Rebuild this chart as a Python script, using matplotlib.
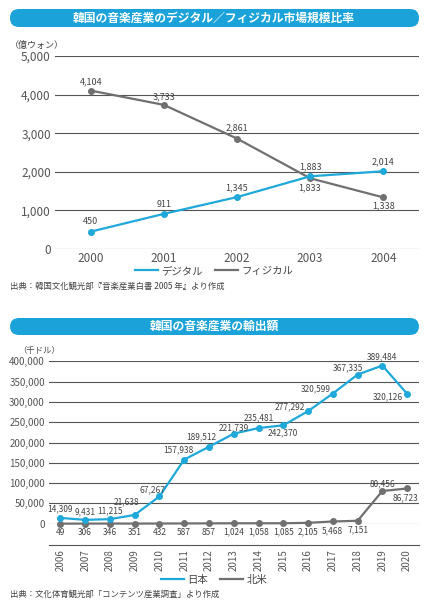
import matplotlib
matplotlib.use('Agg')
from matplotlib import pyplot as plt
from matplotlib.patches import FancyBboxPatch
from matplotlib.transforms import IdentityTransform
from matplotlib.ticker import FuncFormatter

plt.rcParams['font.family'] = ['Noto Sans CJK JP', 'DejaVu Sans']

# データ：デジタル／フィジカル市場規模
years1 = ['2000', '2001', '2002', '2003', '2004']
digital = [450, 911, 1345, 1883, 2014]
physical = [4104, 3733, 2861, 1833, 1338]

# データ：輸出額
years2 = [str(y) for y in range(2006, 2021)]
japan = [14309, 9431, 11215, 21638, 67267, 157938, 189512, 221739,
         235481, 242370, 277292, 320599, 367335, 389484, 320126]
na = [49, 306, 346, 351, 432, 587, 857, 1024, 1058, 1085, 2105,
      5468, 7151, 80456, 86723]

# ラベル位置（ピクセルオフセット）
off_digital = [(0, 10), (0, 9), (0, 9), (0, 10), (0, 9)]
off_physical = [(0, 9), (0, 8), (0, 11), (0, -10), (0, -8)]
off_japan = [(0, 9), (0, 8), (0, 8), (-8, 13), (-7, 7), (-6, 10), (-8, 10),
             (0, 6), (0, 10), (0, -8), (-18, 4), (-17, 5), (-10, 7), (0, 9),
             (-19, -3)]
off_na = [(0, -9)] * 13 + [(0, 7), (-2, -9)]

CYAN = '#1fa8da'
GRAY = '#707070'
BAR = '#1ba3d9'
GRID = '#555555'
TXT = '#444444'

W, H = 431, 602
fig = plt.figure(figsize=(W / 100, H / 100), dpi=100)


def fx(px):
    return px / W


def fy(py):
    return 1 - py / H


def title_bar(y0, y1, text):
    fig.add_artist(FancyBboxPatch((10, H - y1), 409, y1 - y0,
                                  boxstyle='round,pad=0,rounding_size=9',
                                  transform=IdentityTransform(),
                                  fc=BAR, ec='none'))
    fig.text(fx(214), fy((y0 + y1) / 2), text, color='white', fontsize=8.5,
             fontweight='bold', ha='center', va='center')


def labels(ax, vals, offs, fs):
    for i, (v, o) in enumerate(zip(vals, offs)):
        ax.annotate(f'{v:,}', (i, v), xytext=o, textcoords='offset pixels',
                    ha='center', va='center', fontsize=fs, color=TXT)


def style(ax, ticks, fs):
    for s in ax.spines.values():
        s.set_visible(False)
    ax.set_yticks(ticks)
    ax.yaxis.set_major_formatter(FuncFormatter(lambda v, p: f'{int(v):,}'))
    ax.grid(axis='y', color=GRID, lw=0.8)
    ax.set_axisbelow(True)
    ax.tick_params(axis='y', length=0, pad=3, labelsize=fs, labelcolor='#555555')
    ax.tick_params(axis='x', length=0, labelcolor='#555555')
    ax.patch.set_alpha(0)


# ---- グラフ1 ----
title_bar(9, 27, '韓国の音楽産業のデジタル／フィジカル市場規模比率')
ax1 = fig.add_axes([fx(55), fy(249), fx(364), (249 - 56) / H])
x1 = range(len(years1))
ax1.plot(x1, digital, color=CYAN, lw=1.6, marker='o', ms=4, label='デジタル', zorder=3)
ax1.plot(x1, physical, color=GRAY, lw=1.6, marker='o', ms=4, label='フィジカル', zorder=2)
style(ax1, range(0, 5001, 1000), 8.5)
ax1.set_ylim(0, 5000)
ax1.set_xlim(-0.49, 4.49)
ax1.set_xticks(list(x1), years1)
ax1.tick_params(axis='x', labelsize=8.5, pad=2)
labels(ax1, digital, off_digital, 6.5)
labels(ax1, physical, off_physical, 6.5)
fig.text(fx(10), fy(45), '（億ウォン）', fontsize=6.5, color=TXT, va='center')
ax1.legend(loc='center', bbox_to_anchor=(fx(214), fy(271)), bbox_transform=fig.transFigure,
           ncol=2, frameon=False, fontsize=7.5, handlelength=2.2, handletextpad=0.3,
           columnspacing=1.2, labelcolor=TXT)
for h in ax1.get_legend().legend_handles:
    h.set_marker('')
fig.text(fx(10), fy(286), '出典：韓国文化観光部『音楽産業白書 2005 年』より作成',
         fontsize=6, color=TXT, va='center')

# ---- グラフ2 ----
title_bar(318, 335, '韓国の音楽産業の輸出額')
ax2 = fig.add_axes([fx(49), fy(523.7), fx(370), (523.7 - 361.3) / H])
x2 = range(len(years2))
ax2.plot(x2, japan, color=CYAN, lw=1.6, marker='o', ms=4, label='日本', zorder=3, clip_on=False)
ax2.plot(x2, na, color=GRAY, lw=1.6, marker='o', ms=4, label='北米', zorder=2, clip_on=False)
style(ax2, range(0, 400001, 50000), 7)
ax2.set_ylim(0, 400000)
ax2.set_xlim(-0.46, 14.48)
ax2.spines['bottom'].set_visible(True)
ax2.spines['bottom'].set_position(('outward', 15.5))
ax2.spines['bottom'].set_color(GRID)
ax2.spines['bottom'].set_linewidth(0.8)
ax2.set_xticks(list(x2), years2, rotation=90)
ax2.tick_params(axis='x', labelsize=7, pad=3)
labels(ax2, japan, off_japan, 6)
labels(ax2, na, off_na, 6)
fig.text(fx(18), fy(350), '（千ドル）', fontsize=6, color=TXT, va='center')
ax2.legend(loc='center', bbox_to_anchor=(fx(214), fy(580)), bbox_transform=fig.transFigure,
           ncol=2, frameon=False, fontsize=7.5, handlelength=2.2, handletextpad=0.3,
           columnspacing=1.2, labelcolor=TXT)
for h in ax2.get_legend().legend_handles:
    h.set_marker('')
fig.text(fx(10), fy(594), '出典：文化体育観光部「コンテンツ産業調査」より作成',
         fontsize=6, color=TXT, va='center')

fig.savefig('out.png', dpi=100)
